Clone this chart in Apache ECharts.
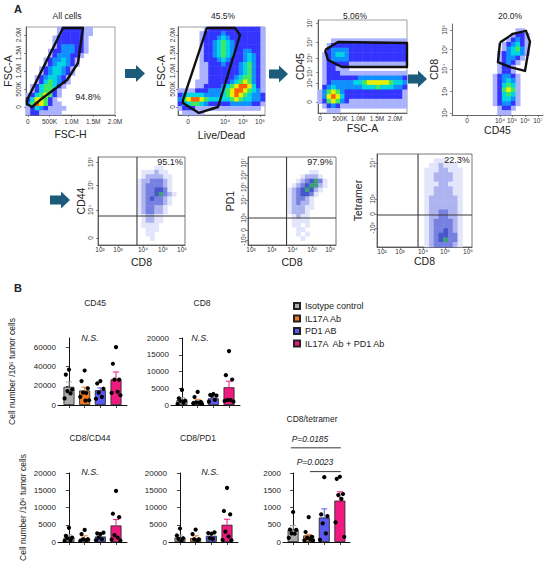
<!DOCTYPE html>
<html>
<head>
<meta charset="utf-8">
<title>Flow gating and tumor-infiltrating T cells</title>
<script src="https://cdn.jsdelivr.net/npm/echarts@6.0.0/dist/echarts.min.js"></script>
<style>
html,body{margin:0;padding:0;background:#fff;}
#chart{width:550px;height:563px;}
</style>
</head>
<body>
<div id="chart"></div>
<script>
// ================= DATA =================
// Panel A density grids (20x20, rows top->bottom; digit = density level)
const densAllCells = [
'00000001222221100000','00000001222221100000','00000012222221000000','00000012222221000000',
'00000012333221000000','00000122333221000000','00000123332210000000','00001233432100000000',
'00001234432100000000','00012344321000000000','00012344321000000000','00123443210000000000',
'00124543210000000000','01245542100000000000','01245521000000000000','12456521000000000000',
'24665210000000000000','35765211000000000000','12432111100000000000','12211111000000000000'];
const densLiveDead = [
'00000012222222222221','00000122223222222221','00000122234322222221','00000122345432222221',
'00000122345432222221','00000122345432233221','00000122345432234321','00000122234322234321',
'00000112223222345321','00000112222222345321','00000112222222345321','00000112222223455321',
'00001112222234565321','00001122223456776421','11112223334567765431','23444433334567654332',
'35677654444456544332','23455432222233333221','12221111111111111110','01111100000000000000'];
const densCD45 = [
'00000000000000000000','00000000000000000000','00000000000000000000','00000000000000000000',
'00011111111111111111','00122222222222222222','00233332222222222222','01234432222222222222',
'01233332222222222222','01222221111111111111','01221110000000000000','01222111111111111111',
'01222222233333333332','01233333445666665443','02343333334445444332','13565322222222222221',
'13676422222222222221','12565321111111111111','01232111111111111111','00111000000000000000'];
const densCD8 = [
'00000000000000000000','00000000000000110000','00000000000001221000','00000000000012321000',
'00000000000123421000','00000000000134531000','00000000001234431000','00000000001233210000',
'00000000001232100000','00000000001221000000','00000000001221000000','00000000012332100000',
'00000000012343100000','00000000012454100000','00000000012565100000','00000000012454100000',
'00000000012443100000','00000000012332100000','00000000001221000000','00000000001110000000'];
const densCD44 = [
'00000000000000000000','00000000000000000000','00000000000001100000','00000000001112110000',
'00000000001222211000','00000000012233321000','00000000012333321000','00000000012334431000',
'00000000012334532100','00000000012343321000','00000000012333321000','00000000012332210000',
'00000000012332210000','00000000001221100000','00000000001221100000','00000000001111000000',
'00000000000111000000','00000000000110000000','00000000000010000000','00000000000000000000'];
const densPD1 = [
'00000000000000000000','00000000000000000000','00000000000000000000','00000000000000110000',
'00000000000012221000','00000000000123453100','00000000001234552100','00000000012345421000',
'00000000012344310000','00000000012332100000','00000000012322100000','00000000012221100000',
'00000000012221000000','00000000001211000000','00000000001111000000','00000000001101000000',
'00000000000110000000','00000000000101000000','00000000000010000000','00000000000000000000'];
const densTetramer = [
'00000000000000000000','00000000000011100000','00000000000112111000','00000000001112211100',
'00000000001122221100','00000000001122221100','00000000001112211100','00000000001122221100',
'00000000001122221100','00000000001222222100','00000000001222222100','00000000001222222100',
'00000000001223322100','00000000001223322100','00000000001233332100','00000000001233332100',
'00000000001233432100','00000000001234433100','00000000001234533100','00000000001233332100'];

// gates (display units 0-10 on both axes)
const gateAllCells = [[0.11,1.70],[4.16,9.89],[6.40,9.89],[5.84,5.91],[4.61,3.98],[1.57,1.70],[0.67,0.91],[0.11,1.25],[0.11,1.70]];
const gateLiveDead = [[0.57,1.70],[3.33,9.89],[6.55,9.89],[7.13,9.09],[4.60,0.91],[2.41,0.23],[0.57,1.36],[0.57,1.70]];
const gateCD45 = [[0.79,6.77],[2.25,7.63],[10,7.53],[10,4.95],[2.70,4.95],[1.12,5.70],[0.79,6.77]];
const gateCD8 = [[5.27,7.96],[6.70,8.92],[8.13,9.25],[8.57,8.06],[8.02,4.84],[6.37,5.27],[5.05,5.81],[5.27,7.96]];

// quadrant thresholds [x, y]
const quadCD44 = [4.48, 3.30];
const quadPD1 = [4.38, 3.07];
const quadTetramer = [4.32, 3.44];

// flow axis tick labels and their positions
const tickLinLabels = ['0','500K','1.0M','1.5M','2.0M'];
const tickFscHPos = [0.2,2.65,5.1,7.55,10];
const tickFscAPos = [0.91,2.95,5.0,7.05,9.09];
const tickLDLabels = ['0','10⁴','10⁵','10⁶'];
const tickLDPos = [1.15,5.40,7.47,9.43];
const tickFscA3Pos = [0.22,2.47,4.49,6.63,8.65];
const tickCD45yLabels = ['0','10³','10⁴','10⁵','10⁶','10⁷'];
const tickCD45yPos = [1.18,3.23,4.41,5.91,7.63,9.68];
const tickCD8yLabels = ['10²','10³','10⁴','10⁵','10⁶'];
const tickCD8yPos = [0.22,2.58,5.05,7.20,9.35];
const tickCD45xLabels = ['0','10⁴','10⁵','10⁶','10⁷'];
const tickCD45xPos = [1.65,5.27,6.59,8.02,9.45];
const tickDecLabels = ['10²','10³','10⁴','10⁵','10⁶'];
const tickCD8xPos5 = [0.23,2.30,5.17,7.47,9.66];
const tickCD8xPos6 = [0.34,2.70,5.06,7.30,9.33];
const tickCD8xPos7 = [0.53,2.42,4.84,7.16,9.58];
const tickCD44Labels = ['0','10⁴','10⁵','10⁶'];
const tickCD44Pos = [0.80,3.98,6.82,9.43];
const tickPD1Labels = ['-10³','0','10³','10⁴','10⁵','10⁶','10⁷'];
const tickPD1Pos = [0.57,1.70,3.07,5.11,6.59,7.95,9.32];
const tickTetLabels = ['-10³','0','10³','10⁴'];
const tickTetPos = [2.04,3.55,5.16,9.03];

// Panel B
const GROUPS = ['Isotype control','IL17A Ab','PD1 AB','IL17A  Ab + PD1 Ab'];
const cd45Mean = [19000,15200,15500,26800];
const cd45Sem = [5100,3500,2300,7700];
const cd45Dots = [[37000,31800,16200,14500,12100,6900],[36000,25000,17500,13000,12500,8500,5000,4500],[25000,22500,17000,13000,8500,6500],[60400,43100,26500,26500,13800,12600,10200]];
const cd8Mean = [1500,1200,2000,5300];
const cd8Sem = [700,500,400,1800];
const cd8Dots = [[4500,2000,1300,1200,700,300],[3900,2400,900,800,700,500,300],[3300,3000,2800,2800,1500,1000],[16100,8900,7600,1500,1500,1200,1000]];
const cd44Mean = [1300,1000,1600,4800];
const cd44Sem = [800,800,700,1700];
const cd44Dots = [[4100,1800,1300,1100,500,300],[3500,2300,800,800,500,300],[2300,2500,2700,1300,800,500],[14800,8200,7200,2000,1300,700,400]];
const pd1Mean = [1300,1100,1800,5000];
const pd1Sem = [700,700,600,1600];
const pd1Dots = [[3900,1900,1100,900,300],[3600,2300,800,800,300],[2400,2600,2800,1100,900],[15700,9000,8000,3000,1600,600,500]];
const tetMean = [360,190,710,1200];
const tetSem = [115,30,250,255];
const tetDots = [[870,360,350,250,240,120],[720,290,150,120,80,50,40],[1880,800,750,540,250,60],[1890,1830,1390,1360,1250,570,150]];
const ticks70k = [0,20000,40000,60000];
const ticks20k = [0,5000,10000,15000,20000];
const ticks2k = [0,500,1000,1500,2000];
// significance brackets [fromX, toX, y]
const sigBrackets = [[-0.14,3.06,2730],[1.08,3.06,2040]];

// ================= STYLE / LAYOUT =================
const FONT = '"Liberation Sans", Arial, "DejaVu Sans", sans-serif';
const GROUP_COLORS = ['#ababab','#f37a21','#5a5af0','#f0197f'];
const PAL_PSEUDO = ['#aab2ff','#3434ff','#1090ff','#00d6e0','#3fe860','#e8f000','#ff6000'];
const PAL_DOT = ['#e3e6fa','#adb4ef','#7680e0','#4658c8','#3f9f7a'];
const JIT = [0,-0.2,0.2,-0.1,0.1,-0.28,0.28,0.05];

const grids=[], xAxes=[], yAxes=[], series=[], graphics=[];
const pseudoIdx=[], dotIdx=[];

function tickLabel(pos, labels, v){
  for (let i=0;i<pos.length;i++) if (Math.abs(pos[i]-v)<1e-6) return labels[i];
  return '';
}

function addFlow(o){
  const gi = grids.length;
  grids.push({left:o.box[0], top:o.box[1], width:o.box[2], height:o.box[3], show:o.frame, borderColor:o.frameColor||'#666', borderWidth:0.8, backgroundColor:'rgba(0,0,0,0)'});
  const N=20, M=o.dens.length;
  const xc = xAxes.length;
  xAxes.push({type:'category', gridIndex:gi, data:[...Array(N).keys()], show:false, position:'top'});
  const xv = xAxes.length;
  xAxes.push({type:'value', gridIndex:gi, min:0, max:10, position:'bottom',
    name:o.xName, nameLocation:'middle', nameGap:o.xGap, nameTextStyle:{fontSize:10.5,color:'#222',fontFamily:FONT},
    axisLine:{show:true,onZero:false,lineStyle:{color:'#444',width:0.8}}, splitLine:{show:false},
    axisTick:{show:true,length:2,customValues:o.xPos,lineStyle:{color:'#444',width:0.6}},
    axisLabel:{customValues:o.xPos, formatter:v=>tickLabel(o.xPos,o.xLab,v), fontSize:6.5, color:'#333', margin:o.xMargin, fontFamily:FONT, hideOverlap:false}});
  const yc = yAxes.length;
  yAxes.push({type:'category', gridIndex:gi, data:[...Array(M).keys()], inverse:true, show:false, position:'right'});
  const yv = yAxes.length;
  yAxes.push({type:'value', gridIndex:gi, min:0, max:10, position:'left',
    name:o.yName, nameLocation:'middle', nameGap:o.yGap, nameTextStyle:{fontSize:10.5,color:'#222',fontFamily:FONT},
    axisLine:{show:true,onZero:false,lineStyle:{color:'#444',width:0.8}}, splitLine:{show:false},
    axisTick:{show:true,length:2,customValues:o.yPos,lineStyle:{color:'#444',width:0.6}},
    axisLabel:{customValues:o.yPos, formatter:v=>tickLabel(o.yPos,o.yLab,v), fontSize:6.5, color:'#333', margin:o.yMargin, rotate:90, fontFamily:FONT, hideOverlap:false}});
  const data=[];
  o.dens.forEach((row,r)=>{
    const s=row.padEnd(N,'0').slice(0,N);
    for (let c=0;c<N;c++){ const l=+s[c]; if (l>0) data.push([c,r,l]); }
  });
  (o.pal==='pseudo'?pseudoIdx:dotIdx).push(series.length);
  series.push({type:'heatmap', xAxisIndex:xc, yAxisIndex:yc, data, silent:true, z:1, progressive:0});
  if (o.gate){
    series.push({type:'line', xAxisIndex:xv, yAxisIndex:yv, data:o.gate, symbol:'none', clip:false, silent:true, z:5,
      lineStyle:{color:'#111', width:2.4, join:'round'}});
  }
  if (o.quad){
    series.push({type:'line', xAxisIndex:xv, yAxisIndex:yv, data:[[o.quad[0],0],[o.quad[0],10]], symbol:'none', silent:true, z:5, lineStyle:{color:'#3a3a3a',width:1.1}});
    series.push({type:'line', xAxisIndex:xv, yAxisIndex:yv, data:[[0,o.quad[1]],[10,o.quad[1]]], symbol:'none', silent:true, z:5, lineStyle:{color:'#3a3a3a',width:1.1}});
  }
}

function renderErr(params, api){
  const x=api.value(0), m=api.value(1), t=api.value(2);
  const p0=api.coord([x,m]), p1=api.coord([x,t]);
  const c=GROUP_COLORS[Math.round(x)];
  return {type:'group', children:[
    {type:'line', shape:{x1:p0[0],y1:p0[1],x2:p1[0],y2:p1[1]}, style:{stroke:c,lineWidth:1}},
    {type:'line', shape:{x1:p1[0]-3,y1:p1[1],x2:p1[0]+3,y2:p1[1]}, style:{stroke:c,lineWidth:1}}
  ]};
}

function addBar(o){
  const gi=grids.length;
  grids.push({left:o.box[0], top:o.box[1], width:o.box[2], height:o.box[3]});
  const xi=xAxes.length;
  xAxes.push({type:'value', gridIndex:gi, min:o.xr[0], max:o.xr[1],
    axisLine:{show:true,onZero:false,lineStyle:{color:'#111',width:1}},
    axisTick:{show:true,customValues:[0,1,2,3],length:3,lineStyle:{color:'#111',width:0.8}},
    axisLabel:{show:false}, splitLine:{show:false}});
  const yi=yAxes.length;
  yAxes.push({type:'value', gridIndex:gi, min:0, max:o.yMax,
    name:o.yName||'', nameLocation:'middle', nameGap:o.yGap||0, nameTextStyle:{fontSize:8.5,color:'#222',fontFamily:FONT},
    axisLine:{show:true,lineStyle:{color:'#111',width:1}},
    axisTick:{show:true,length:3,customValues:o.ticks,lineStyle:{color:'#111',width:0.8}},
    axisLabel:{customValues:o.ticks, formatter:v=>String(v), fontSize:8, color:'#222', margin:2, fontFamily:FONT},
    splitLine:{show:false}});
  series.push({type:'bar', xAxisIndex:xi, yAxisIndex:yi, barWidth:11, silent:true, z:2,
    data:o.mean.map((m,i)=>({value:[i,m], itemStyle:{color:GROUP_COLORS[i]}})),
    itemStyle:{borderColor:'#222',borderWidth:0.8}});
  series.push({type:'custom', xAxisIndex:xi, yAxisIndex:yi, silent:true, z:3, renderItem:renderErr,
    data:o.mean.map((m,i)=>[i,m,m+o.sem[i]])});
  const dots=[];
  o.dots.forEach((arr,i)=>arr.forEach((v,k)=>dots.push([i+JIT[k%JIT.length], v])));
  series.push({type:'scatter', xAxisIndex:xi, yAxisIndex:yi, data:dots, symbolSize:4.2, silent:true, z:4, itemStyle:{color:'#000', opacity:1}});
  if (o.sig){
    o.sig.forEach(b=>series.push({type:'line', xAxisIndex:xi, yAxisIndex:yi, data:[[b[0],b[2]],[b[1],b[2]]], symbol:'none', clip:false, silent:true, z:4, lineStyle:{color:'#222',width:0.9}}));
  }
}

// ---- Panel A ----
addFlow({dens:densAllCells, pal:'pseudo', box:[26,27,89,88], frame:true, frameColor:'#888', gate:gateAllCells,
  xName:'FSC-H', xGap:13.5, xLab:tickLinLabels, xPos:tickFscHPos, xMargin:3,
  yName:'FSC-A', yGap:13, yLab:tickLinLabels, yPos:tickFscAPos, yMargin:4});
addFlow({dens:densLiveDead, pal:'pseudo', box:[178,27,87,88], frame:true, frameColor:'#888', gate:gateLiveDead,
  xName:'Live/Dead', xGap:14, xLab:tickLDLabels, xPos:tickLDPos, xMargin:3,
  yName:'FSC-A', yGap:11.5, yLab:tickLinLabels, yPos:tickFscAPos, yMargin:2});
addFlow({dens:densCD45, pal:'pseudo', box:[318,20,89,93], frame:true, frameColor:'#888', gate:gateCD45,
  xName:'FSC-A', xGap:9.5, xLab:tickLinLabels, xPos:tickFscA3Pos, xMargin:2,
  yName:'CD45', yGap:12.5, yLab:tickCD45yLabels, yPos:tickCD45yPos, yMargin:5});
addFlow({dens:densCD8, pal:'pseudo', box:[452,24,91,91], frame:false, gate:gateCD8,
  xName:'CD45', xGap:8, xLab:tickCD45xLabels, xPos:tickCD45xPos, xMargin:2,
  yName:'CD8', yGap:10.5, yLab:tickCD8yLabels, yPos:tickCD8yPos, yMargin:4.5});
addFlow({dens:densCD44, pal:'dot', box:[98,157,87,88], frame:true, frameColor:'#555', quad:quadCD44,
  xName:'CD8', xGap:11, xLab:tickDecLabels, xPos:tickCD8xPos5, xMargin:0.5,
  yName:'CD44', yGap:11.5, yLab:tickCD44Labels, yPos:tickCD44Pos, yMargin:4});
addFlow({dens:densPD1, pal:'dot', box:[248,157,88,88], frame:true, frameColor:'#555', quad:quadPD1,
  xName:'CD8', xGap:11, xLab:tickDecLabels, xPos:tickCD8xPos6, xMargin:0.5,
  yName:'PD1', yGap:12.5, yLab:tickPD1Labels, yPos:tickPD1Pos, yMargin:1.5});
addFlow({dens:densTetramer, pal:'dot', box:[377,154,95,93], frame:true, frameColor:'#555', quad:quadTetramer,
  xName:'CD8', xGap:7, xLab:tickDecLabels, xPos:tickCD8xPos7, xMargin:0.5,
  yName:'Tetramer', yGap:13.5, yLab:tickTetLabels, yPos:tickTetPos, yMargin:1.5});

// ---- Panel B ----
const YNAME = 'Cell number /10⁶ tumor cells';
addBar({box:[58,338,69,67], xr:[-0.7,3.7], yMax:70000, ticks:ticks70k, mean:cd45Mean, sem:cd45Sem, dots:cd45Dots, yName:YNAME, yGap:41.5});
addBar({box:[171,338,69,67], xr:[-0.7,3.7], yMax:20000, ticks:ticks20k, mean:cd8Mean, sem:cd8Sem, dots:cd8Dots});
addBar({box:[58,473,69,69], xr:[-0.7,3.7], yMax:20000, ticks:ticks20k, mean:cd44Mean, sem:cd44Sem, dots:cd44Dots, yName:YNAME, yGap:30.5});
addBar({box:[169,473,69,69], xr:[-0.7,3.7], yMax:20000, ticks:ticks20k, mean:pd1Mean, sem:pd1Sem, dots:pd1Dots});
addBar({box:[283,473,67,69], xr:[-0.65,3.65], yMax:2000, ticks:ticks2k, mean:tetMean, sem:tetSem, dots:tetDots, sig:sigBrackets});

// legend carrier (hidden grid)
{
  const gi=grids.length;
  grids.push({left:0,top:0,width:1,height:1,show:false});
  const xi=xAxes.length; xAxes.push({type:'category',gridIndex:gi,show:false,data:['a']});
  const yi=yAxes.length; yAxes.push({type:'value',gridIndex:gi,show:false});
  GROUPS.forEach((g,i)=>series.push({type:'bar', name:g, xAxisIndex:xi, yAxisIndex:yi, data:[], itemStyle:{color:GROUP_COLORS[i], borderColor:'#222', borderWidth:0.8}}));
}

// ---- annotation texts ----
const TEXTS = [
  ['A',18,9,11,'bold','normal'],['B',18,288,11,'bold','normal'],
  ['All cells',67,16,8.5],['45.5%',223,16,8.5],['5.06%',355,16,8.5],['20.0%',510,16,8.5],
  ['94.8%',88,97,9],['95.1%',170,162,9],['97.9%',320,162,9],['22.3%',457,160,9],
  ['CD45',95,303,8.5],['CD8',202,303,8.5],['CD8/CD44',90,438,8.5],['CD8/PD1',198,438,8.5],['CD8/tetramer',312,419,8.5],
  ['N.S.',90,338,9,'normal','italic'],['N.S.',200,338,9,'normal','italic'],
  ['N.S.',90,472,9,'normal','italic'],['N.S.',210,472,9,'normal','italic'],
  ['P=0.0185',310,439,8.5,'normal','italic'],['P=0.0023',315,462,8.5,'normal','italic']
];
TEXTS.forEach(t=>graphics.push({type:'text', x:t[1], y:t[2], silent:true, z:10,
  style:{text:t[0], fontSize:t[3], fontWeight:t[4]||'normal', fontStyle:t[5]||'normal', fontFamily:FONT, fill:'#222',
    textAlign:'center', align:'center', textVerticalAlign:'middle', verticalAlign:'middle'}}));

// ---- arrows between gating steps ----
function arrow(x0,x1,cy){
  const sh=9, hh=17, hl=9;
  return {type:'polygon', silent:true, z:10, shape:{points:[[x0,cy-sh/2],[x1-hl,cy-sh/2],[x1-hl,cy-hh/2],[x1,cy],[x1-hl,cy+hh/2],[x1-hl,cy+sh/2],[x0,cy+sh/2]]}, style:{fill:'#1c5b79'}};
}
graphics.push(arrow(125,145,73.5), arrow(269,288,74), arrow(408,427,79), arrow(50,70,200));

const option = {
  animation:false,
  textStyle:{fontFamily:FONT},
  grid:grids, xAxis:xAxes, yAxis:yAxes, series,
  visualMap:[
    {type:'piecewise', show:false, seriesIndex:pseudoIdx, dimension:2, pieces:PAL_PSEUDO.map((c,i)=>({value:i+1,color:c}))},
    {type:'piecewise', show:false, seriesIndex:dotIdx, dimension:2, pieces:PAL_DOT.map((c,i)=>({value:i+1,color:c}))}
  ],
  legend:{data:GROUPS, left:288, top:295.5, orient:'vertical', itemWidth:6, itemHeight:6, itemGap:1.5, icon:'rect', selectedMode:false,
    textStyle:{fontSize:9, color:'#222', fontFamily:FONT, lineHeight:11}},
  graphic:{elements:graphics}
};
const chart = echarts.init(document.getElementById('chart'), null, {renderer:'svg', width:550, height:563});
chart.setOption(option);
</script>
</body>
</html>
